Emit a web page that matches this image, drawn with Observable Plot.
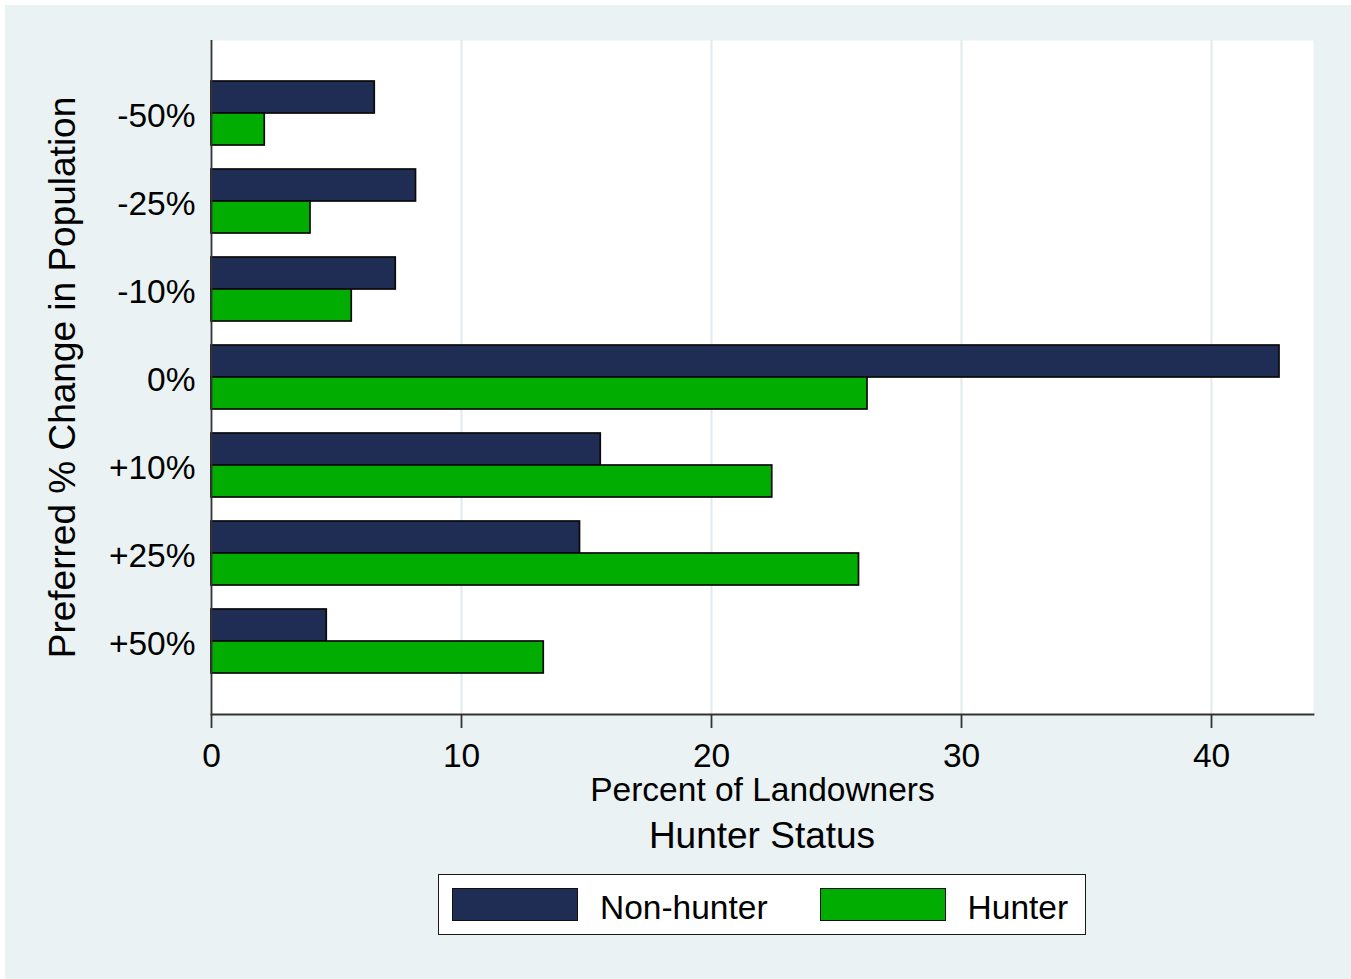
<!DOCTYPE html>
<html>
<head>
<meta charset="utf-8">
<script src="https://cdn.jsdelivr.net/npm/d3@7"></script>
<script src="https://cdn.jsdelivr.net/npm/@observablehq/plot@0.6"></script>
<style>
  html, body { margin: 0; padding: 0; background: #ffffff; }
  #graph {
    position: absolute; left: 5px; top: 5px; width: 1346px; height: 974px;
    background: #eaf2f3;
    font-family: "Liberation Sans", Arial, Helvetica, sans-serif;
    color: #000;
  }
  #chart svg { display: block; }
  #legend-title {
    position: absolute; left: 0; width: 1514px; top: 809px;
    text-align: center; font-size: 37px; line-height: 44px;
  }
  #legend {
    position: absolute; left: 433px; top: 869px; width: 646px; height: 59px;
    background: #fff; border: 1.5px solid #1a1a1a;
    display: flex; align-items: center; box-sizing: content-box;
  }
  .item { display: flex; align-items: center; font-size: 33.5px; }
  .item span { position: relative; top: 3px; }
  .swatch { width: 124px; height: 31px; border: 1.5px solid #111; }
</style>
</head>
<body>
<div id="graph">
  <div id="chart"></div>
  <div id="legend-title">Hunter Status</div>
  <div id="legend"></div>
</div>
<script>
// Preferred change in population, by hunter status (percent of landowners)
const categories = ["-50%", "-25%", "-10%", "0%", "+10%", "+25%", "+50%"];
const nonHunter = [6.53, 8.18, 7.37, 42.72, 15.57, 14.74, 4.61];
const hunter = [2.13, 3.96, 5.61, 26.24, 22.43, 25.9, 13.29];
const seriesNames = ["Non-hunter", "Hunter"];
const seriesColors = ["#1f2c54", "#00ad00"];
const xTicks = [0, 10, 20, 30, 40];
const xTitle = "Percent of Landowners";
const yTitle = "Preferred % Change in Population";

const rows = categories.flatMap((c, i) => [
  {category: c, series: seriesNames[0], value: nonHunter[i]},
  {category: c, series: seriesNames[1], value: hunter[i]}
]);

// layout
const width = 1346, height = 810;
const marginTop = 35, marginBottom = 101, marginLeft = 206, marginRight = 38;
const padInner = 0.2727, padOuter = 0.466;
const plotH = height - marginTop - marginBottom;
const step = plotH / (categories.length - padInner + 2 * padOuter);
const half = step * (1 - padInner) / 2; // each group holds two stacked bars

const barStyle = {stroke: "#0a0a0a", strokeWidth: 1.7};

const chart = Plot.plot({
  width, height, marginTop, marginBottom, marginLeft, marginRight,
  style: {fontFamily: '"Liberation Sans", Arial, sans-serif', fontSize: "33.5px", background: "transparent", color: "#000"},
  x: {domain: [0, 44.08], ticks: xTicks, label: null},
  y: {domain: categories, paddingInner: padInner, paddingOuter: padOuter, round: false, label: null},
  marks: [
    Plot.frame({fill: "white", stroke: "none"}),
    Plot.ruleX(xTicks.filter(d => d > 0), {stroke: "#e1eaee", strokeWidth: 2}),
    Plot.barX(rows.filter(d => d.series === seriesNames[0]), {
      x: "value", y: "category", fill: seriesColors[0], insetBottom: half, ...barStyle
    }),
    Plot.barX(rows.filter(d => d.series === seriesNames[1]), {
      x: "value", y: "category", fill: seriesColors[1], insetTop: half, ...barStyle
    }),
    Plot.ruleX([0], {stroke: "#333", strokeWidth: 1.8}),
    Plot.frame({anchor: "bottom", stroke: "#333", strokeWidth: 1.8}),
    Plot.axisX({
      ticks: xTicks, tickSize: 14, tickPadding: 15, stroke: "#333", strokeWidth: 1.8,
      label: null, tickFormat: d => String(d)
    }),
    Plot.axisY({tickSize: 0, tickPadding: 16, dy: 3, label: null}),
    // axis titles
    Plot.text([xTitle], {
      text: d => d, frameAnchor: "bottom", lineAnchor: "top", dy: 63, fontSize: 33.5
    }),
    Plot.text([yTitle], {
      text: d => d, frameAnchor: "left", textAnchor: "middle", rotate: -90,
      lineAnchor: "top", dx: -163, fontSize: 37
    })
  ]
});
document.getElementById("chart").appendChild(chart);

// legend below the plot
const legend = d3.select("#legend");
seriesNames.forEach((name, i) => {
  const item = legend.append("div").attr("class", "item")
    .style("margin-left", i === 0 ? "13px" : "52px");
  item.append("div").attr("class", "swatch").style("background", seriesColors[i]);
  item.append("span").style("margin-left", "22px").text(name);
});
</script>
</body>
</html>
